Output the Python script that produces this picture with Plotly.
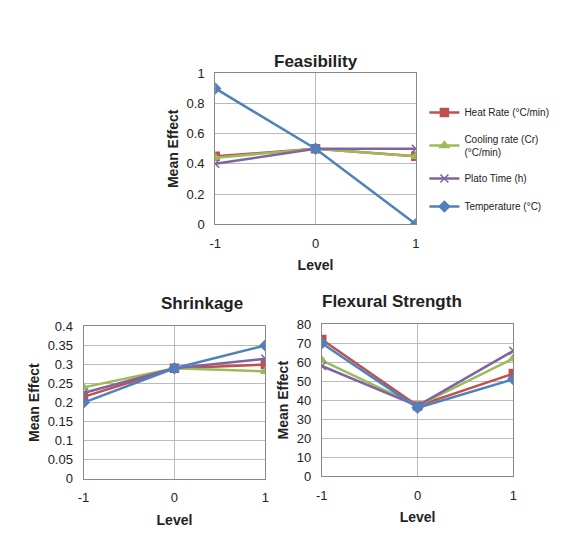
import plotly.graph_objects as go

levels = [-1, 0, 1]
level_labels = ["-1", "0", "1"]
series_names = ["Heat Rate (°C/min)", "Cooling rate (Cr)<br>(°C/min)", "Plato Time (h)", "Temperature (°C)"]
colors = ["#C0504D", "#9BBB59", "#8064A2", "#4F81BD"]
symbols = ["square", "triangle-up", "x-thin", "diamond"]

feas_heat = [0.45, 0.5, 0.45]
feas_cool = [0.44, 0.5, 0.45]
feas_plato = [0.4, 0.5, 0.5]
feas_temp = [0.9, 0.5, 0.0]

shr_heat = [0.215, 0.29, 0.30]
shr_cool = [0.24, 0.29, 0.282]
shr_plato = [0.225, 0.29, 0.315]
shr_temp = [0.20, 0.29, 0.35]

flex_heat = [72, 37, 54]
flex_cool = [61, 37, 62]
flex_plato = [58, 37, 66]
flex_temp = [70, 36, 51]

panels = [
    ("x", "y", [feas_heat, feas_cool, feas_plato, feas_temp], True),
    ("x2", "y2", [shr_heat, shr_cool, shr_plato, shr_temp], False),
    ("x3", "y3", [flex_heat, flex_cool, flex_plato, flex_temp], False),
]

fig = go.Figure()
for xa, ya, data, show in panels:
    for i, vals in enumerate(data):
        fig.add_trace(go.Scatter(
            x=levels, y=vals, xaxis=xa, yaxis=ya, mode="lines+markers",
            name=series_names[i], showlegend=show, legendgroup=str(i),
            line=dict(color=colors[i], width=2.5),
            marker=dict(symbol=symbols[i], size=8, color=colors[i],
                        line=dict(color=colors[i], width=1.5)),
        ))

font = "Liberation Sans, Arial, sans-serif"
ax = dict(showline=True, mirror=True, linecolor="#888", linewidth=1,
          showgrid=True, gridcolor="#bbb", zeroline=False, ticks="",
          ticklabelstandoff=7, tickfont=dict(size=13, color="#222"))
xax = dict(ax, range=[-1, 1], tickvals=levels, ticktext=level_labels,
           title=dict(text="<b>Level</b>", font=dict(size=14), standoff=10))
yt = dict(text="<b>Mean Effect</b>", font=dict(size=14), standoff=4)

fig.update_layout(
    width=580, height=550, margin=dict(l=0, r=0, t=0, b=0),
    paper_bgcolor="white", plot_bgcolor="white",
    font=dict(family=font, color="#222"),
    xaxis=dict(xax, domain=[0.353, 0.705], anchor="y"),
    yaxis=dict(ax, domain=[0.609, 0.891], range=[0, 1], dtick=0.2, anchor="x", title=yt),
    xaxis2=dict(xax, domain=[0.122, 0.441], anchor="y2"),
    yaxis2=dict(ax, domain=[0.133, 0.418], range=[0, 0.4], dtick=0.05, anchor="x2", title=yt),
    xaxis3=dict(xax, domain=[0.540, 0.876], anchor="y3"),
    yaxis3=dict(ax, domain=[0.138, 0.422], range=[0, 80], dtick=10, anchor="x3", title=yt),
    legend=dict(x=0.72, y=0.845, xanchor="left", yanchor="top", tracegroupgap=9,
                font=dict(size=10), bgcolor="rgba(0,0,0,0)"),
    annotations=[
        dict(text="<b>Feasibility</b>", x=0.529, y=0.935, xref="paper", yref="paper",
             showarrow=False, font=dict(size=17)),
        dict(text="<b>Shrinkage</b>", x=0.255, y=0.46, xref="paper", yref="paper",
             showarrow=False, font=dict(size=17)),
        dict(text="<b>Flexural Strength</b>", x=0.79, y=0.465, xref="paper", yref="paper",
             showarrow=False, font=dict(size=17)),
    ],
)

fig.write_html("out.html")
